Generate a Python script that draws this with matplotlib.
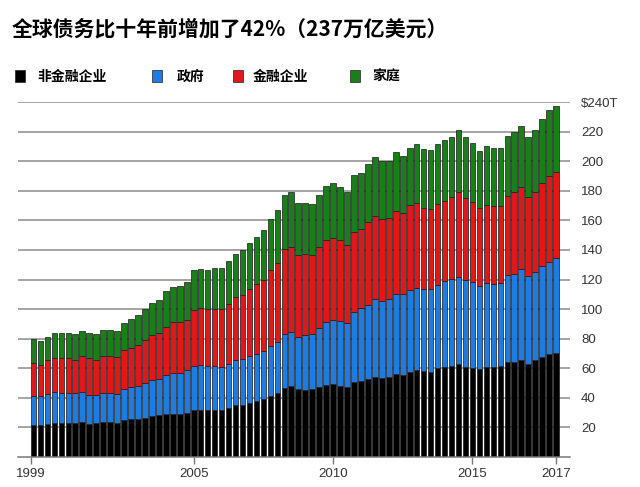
import matplotlib
matplotlib.use("Agg")
import matplotlib.pyplot as plt
from matplotlib.patches import Rectangle
import numpy as np

# ---- data (trillion USD, quarterly 1999Q1 .. 2017Q4) ----
nonfin = [21.7, 21.7, 22.2, 23.1, 23.1, 22.9, 23.1, 23.3, 22.2, 22.6, 23.3, 23.3, 22.6, 24.9, 25.4, 25.6,
          26.5, 27.4, 28.3, 29.0, 29.0, 29.0, 29.7, 31.5, 31.5, 31.5, 31.5, 31.7, 33.3, 34.7, 35.1, 36.5,
          37.6, 39.2, 41.0, 43.3, 46.4, 47.6, 45.6, 45.2, 45.6, 47.2, 48.5, 49.0, 48.1, 47.2, 50.4, 51.3,
          52.4, 53.7, 53.3, 54.0, 55.8, 55.3, 57.6, 58.5, 58.0, 57.6, 59.8, 60.5, 61.2, 62.5, 61.0, 60.3,
          59.4, 61.0, 61.0, 61.6, 63.9, 64.3, 65.5, 63.0, 65.3, 67.7, 69.3, 70.4]
government = [19.7, 19.7, 20.4, 20.8, 20.2, 20.4, 19.7, 20.6, 19.9, 19.3, 20.0, 20.0, 20.0, 20.9, 21.7, 22.2,
              23.1, 24.7, 24.2, 26.0, 27.9, 27.9, 28.7, 29.7, 30.3, 29.7, 29.7, 29.0, 29.7, 30.5, 31.3, 31.7,
              31.7, 32.4, 33.7, 34.4, 36.5, 36.7, 35.2, 37.2, 37.5, 40.2, 42.9, 43.3, 44.0, 43.6, 47.8, 49.2,
              50.3, 52.9, 52.1, 52.8, 54.2, 54.7, 55.3, 56.0, 55.8, 56.0, 56.5, 58.5, 58.9, 59.4, 58.7, 58.2,
              56.4, 56.4, 56.0, 56.3, 59.2, 59.7, 61.4, 59.6, 59.6, 61.7, 62.8, 63.9]
financial = [22.2, 20.9, 22.6, 22.9, 23.3, 23.5, 22.9, 24.0, 24.7, 23.8, 24.9, 24.9, 24.7, 26.2, 26.5, 28.1,
             29.7, 30.6, 31.3, 32.9, 34.2, 34.2, 34.5, 38.0, 38.8, 38.5, 38.7, 39.6, 40.7, 42.8, 43.2, 45.7,
             47.8, 48.2, 51.7, 53.7, 57.8, 57.9, 55.8, 54.7, 53.5, 54.6, 55.4, 56.0, 54.4, 52.3, 54.2, 53.5,
             56.5, 56.6, 55.6, 55.1, 56.6, 54.8, 57.6, 57.5, 54.4, 54.2, 54.8, 54.4, 55.6, 57.1, 55.7, 54.2,
             52.9, 53.1, 52.8, 51.9, 53.7, 55.0, 55.5, 53.3, 54.6, 55.7, 58.2, 58.7]
household = [15.9, 15.8, 15.9, 17.2, 17.2, 17.2, 17.2, 17.3, 16.8, 17.2, 17.6, 17.6, 17.9, 18.6, 19.5, 20.1,
             20.4, 21.5, 22.2, 24.2, 24.0, 24.6, 25.3, 27.0, 26.2, 26.5, 27.6, 27.7, 28.8, 29.5, 30.4, 31.1,
             31.7, 34.0, 34.6, 36.0, 36.6, 37.3, 35.4, 34.5, 34.5, 35.5, 36.8, 36.8, 36.4, 36.4, 38.2, 38.4,
             39.0, 40.0, 39.3, 38.4, 39.8, 38.9, 38.8, 40.0, 40.0, 39.7, 40.5, 40.9, 40.8, 42.0, 40.9, 40.0,
             38.3, 39.9, 39.0, 39.5, 40.2, 40.9, 41.6, 40.9, 41.5, 43.4, 44.3, 44.3]

series_names = ["非金融企业", "政府", "金融企业", "家庭"]
colors = ["#000000", "#1f7be0", "#e0181a", "#1a7f1a"]

year_labels = ["1999", "2005", "2010", "2015", "2017"]
year_bar_index = [0, 23, 43, 63, 75]
y_ticks = [20, 40, 60, 80, 100, 120, 140, 160, 180, 200, 220, 240]
y_labels = ["20", "40", "60", "80", "100", "120", "140", "160", "180", "200", "220", "$240T"]

title = "全球债务比十年前增加了42%（237万亿美元）"

CJK = ["Noto Sans CJK SC", "DejaVu Sans"]
LAT = ["Liberation Sans", "DejaVu Sans"]

W, H = 640, 487
fig = plt.figure(figsize=(W / 100, H / 100), dpi=100)
fig.patch.set_facecolor("white")

ax_left, ax_right, ax_bottom, ax_top = 18, 570, 456.7, 102.3
ax = fig.add_axes([ax_left / W, (H - ax_bottom) / H, (ax_right - ax_left) / W, (ax_bottom - ax_top) / H])

x = np.arange(len(nonfin))
bottom = np.zeros(len(nonfin))
for vals, c in zip([nonfin, government, financial, household], colors):
    vals = np.array(vals)
    ax.bar(x, vals, width=0.8, bottom=bottom, color=c, edgecolor="#1a1a1a", linewidth=0.5, zorder=2)
    bottom += vals

ax.set_xlim(-2.22, 77.0)
ax.set_ylim(0, 240)

ax.set_yticks(y_ticks)
ax.set_yticklabels(y_labels, fontfamily=LAT)
ax.yaxis.tick_right()
ax.yaxis.grid(True, color="#8c8c8c", linewidth=1.1, zorder=0)
ax.set_axisbelow(True)
ax.tick_params(axis="y", length=0, pad=8, labelsize=9.5, labelcolor="#333333")

ax.set_xticks([i - 0.4 if i == 0 else i for i in year_bar_index])
ax.set_xticklabels(year_labels, fontfamily=LAT)
ax.tick_params(axis="x", length=5, width=1, color="#777777", labelsize=9.5, labelcolor="#333333", pad=3)

for s in ["top", "left", "right"]:
    ax.spines[s].set_visible(False)
ax.spines["bottom"].set_color("#777777")
ax.spines["bottom"].set_linewidth(1.1)

# title
fig.text(12 / W, 1 - 29 / H, title, fontsize=15, fontweight="bold", va="center", ha="left",
         family=CJK, color="#000000")

# legend
sq_x = [15, 152, 233, 350]
txt_x = [37, 177, 253, 372]
for name, c, sx, tx in zip(series_names, colors, sq_x, txt_x):
    fig.add_artist(Rectangle((sx / W, 1 - 82 / H), 10 / W, 12 / H, transform=fig.transFigure,
                             facecolor=c, edgecolor="#222222", linewidth=0.5))
    fig.text(tx / W, 1 - 76.5 / H, name, fontsize=10, fontweight="bold", va="center", ha="left",
             family=CJK, color="#000000")

fig.savefig("out.png", dpi=100)
